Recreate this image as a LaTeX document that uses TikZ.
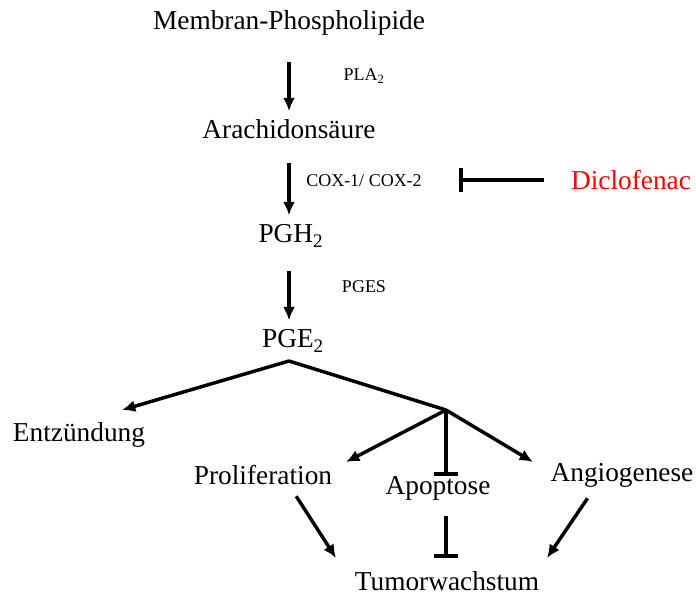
\documentclass[tikz,border=0pt]{standalone}
\usepackage{fontspec}
\setmainfont{Liberation Serif}
\usetikzlibrary{arrows.meta}
\tikzset{
	stoff/.style={font=\fontsize{20.5}{24}\selectfont, inner sep=0pt},
	enzym/.style={font=\fontsize{13.5}{16}\selectfont, inner sep=0pt},
	pfeil/.style={line width=2.6pt, -{Latex[length=10pt, width=9pt]}},
	hemmung/.style={line width=2.6pt, -{Bar[width=18pt, line width=3.2pt]}}
}

\begin{document}
\begin{tikzpicture}[x=0.75pt, y=-0.75pt]
		%%%%% START %%%%%
		\useasboundingbox (0, 0) rectangle (696, 597);
		
		\node[stoff] (mpl) at (289, 23) {Membran-Phospholipide};
		\node[stoff] (aa) at (289, 129) {Arachidonsäure};
		\node[stoff] (pgh) at (291, 236) {PGH\textsubscript{2}};
		\node[stoff] (pge) at (293, 341) {PGE\textsubscript{2}};
		
		\node[enzym] (pla) at (364, 76) {PLA\textsubscript{2}};
		\node[enzym] (cox) at (364, 181) {COX-1/ COX-2};
		\node[enzym] (pges) at (364, 287) {PGES};
		
		\node[stoff, text=red] (dic) at (631, 180) {Diclofenac};
		
		\draw[pfeil, shorten <=20pt, shorten >=6pt] (mpl) -- (aa);
		\draw[pfeil, shorten <=18pt, shorten >=7pt] (aa) -- (aa |- pgh.north);
		\draw[pfeil, shorten <=18pt, shorten >=7pt] (pgh.south -| aa) -- (aa |- pge.north);
		
		\coordinate (stop) at (459, 180);
		\draw[hemmung, shorten <=20pt] (dic) -- (stop);
		
		% Verzweigung unter PGE2
		\node[stoff] (entz) at (79, 435) {Entzündung};
		\node[stoff] (prol) at (263, 475) {Proliferation};
		\node[stoff] (apo) at (438, 488) {Apoptose};
		\node[stoff] (angio) at (622, 475) {Angiogenese};
		\node[stoff] (tumor) at (447, 581) {Tumorwachstum};
		
		\coordinate (apex) at (289, 361);
		\coordinate (fork) at (446, 410);
		
		\draw[pfeil] (apex) -- (122, 410) coordinate (ez);
		\draw[line width=2.6pt, line cap=round] (apex) -- (fork);
		\draw[pfeil] (fork) -- (346, 462);
		\draw[pfeil] (fork) -- (533, 462);
		\draw[hemmung] (fork) -- (fork |- apo.north);
		
		\draw[pfeil, shorten <=10pt] (prol.south) ++(26, 0) -- (336, 558);
		\draw[pfeil, shorten <=10pt] (angio.south) ++(-27, 0) -- (547, 558);
		\draw[hemmung, shorten <=12pt, shorten >=10pt] (apo.south -| fork) -- (fork |- tumor.north);
		%%%%% END %%%%%
	\end{tikzpicture}
\end{document}
